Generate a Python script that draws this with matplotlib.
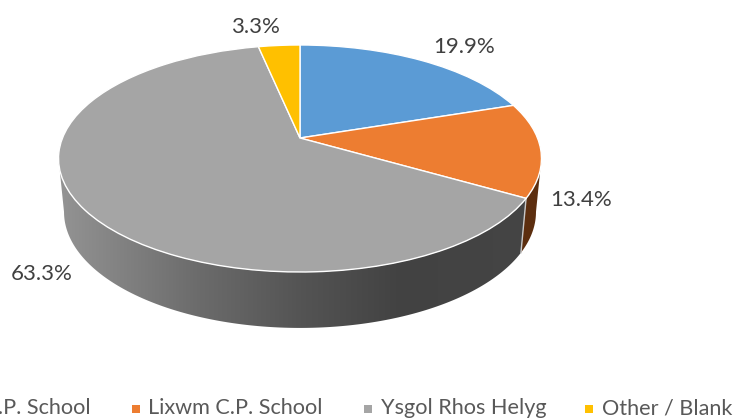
import numpy as np
import matplotlib
matplotlib.use("Agg")
import matplotlib.pyplot as plt
from matplotlib.patches import Polygon
from matplotlib.transforms import Transform

categories = ["Brynford C.P. School", "Lixwm C.P. School", "Ysgol Rhos Helyg", "Other / Blank"]
shares = [19.9, 13.4, 63.3, 3.3]

top_colors = ["#5B9BD5", "#ED7D31", "#A5A5A5", "#FFC000"]
side_colors = ["#3A6A96", "#5C2E0F", None, "#A67C00"]
label_pos = [(464, 47), (581, 200), (42, 274), (255, 27)]
legend_text_x = [91, 148, 381, 602]
legend_mark_x = [None, 135.5, 368, 589]

plt.rcParams["font.family"] = ["Lato", "DejaVu Sans"]
K = 0.1806
UPPER = (237.5, 109.8, 138)
LOWER = (232.1, 112.2, 191)


def project(u, v, a, b, y0):
    d = 1 + K * v
    return 300 + a * u / d, y0 - b * v / d


class Perspective(Transform):
    input_dims = 2
    output_dims = 2
    is_separable = False
    has_inverse = False

    def transform_non_affine(self, values):
        values = np.asarray(values, float)
        x, y = project(values[:, 0], values[:, 1], *UPPER)
        return np.column_stack([x, y])


fig = plt.figure(figsize=(7.33, 4.19), dpi=100)
ax = fig.add_axes([0, 0, 1, 1])

# extruded side of each slice, limited to the part that faces the viewer
edges = np.concatenate([[0], np.cumsum(shares)]) / np.sum(shares) * 2 * np.pi
t_right = np.arccos(-K)
t_left = 2 * np.pi - t_right
xs = np.arange(733) + 0.5
levels = np.interp(xs, [58, 200, 300, 400, 540], [0.58, 0.42, 0.33, 0.26, 0.27])
gradient = np.tile(levels[:, None], (1, 3))[None, :, :]

for i in range(len(shares)):
    t0, t1 = max(edges[i], t_right), min(edges[i + 1], t_left)
    if t1 <= t0:
        continue
    t = np.linspace(t0, t1, 200)
    ux, uy = project(np.sin(t), np.cos(t), *UPPER)
    lx, ly = project(np.sin(t), np.cos(t), *LOWER)
    verts = np.column_stack([np.r_[ux, lx[::-1]], np.r_[uy, ly[::-1]]])
    if side_colors[i] is None:
        outline = Polygon(verts, closed=True, facecolor="none", edgecolor="none")
        ax.add_patch(outline)
        im = ax.imshow(gradient, extent=(0, 733, 419, 0), aspect="auto", zorder=1, interpolation="bilinear")
        im.set_clip_path(outline)
    else:
        ax.add_patch(Polygon(verts, closed=True, facecolor=side_colors[i], edgecolor="none", zorder=1))

# divider on the side at the orange / gray boundary
tb = edges[2]
xa, ya = project(np.sin(tb), np.cos(tb), *UPPER)
xb, yb = project(np.sin(tb), np.cos(tb), *LOWER)
ax.plot([xa, xb], [ya, yb], color="#c8c8c8", lw=1.0, zorder=1.5)

# top face: library pie bent through the perspective transform
wedges, _ = ax.pie(shares, colors=top_colors, startangle=90, counterclock=False,
                   radius=1, wedgeprops=dict(edgecolor="white", linewidth=1.0))
persp = Perspective() + ax.transData
for w in wedges:
    w.set_transform(persp)
    w.set_clip_on(False)
    w.set_zorder(2)

ax.set_aspect("auto")
ax.set_xlim(0, 733)
ax.set_ylim(419, 0)
ax.axis("off")

for v, (x, y) in zip(shares, label_pos):
    ax.text(x, y, f"{v:.1f}%", ha="center", va="center", fontsize=16, color="#404040", zorder=3)

for i, name in enumerate(categories):
    if i == 0:
        ax.text(legend_text_x[i], 408, name, ha="right", va="center", fontsize=15.6, color="#595959")
    else:
        ax.text(legend_text_x[i], 408, name, ha="left", va="center", fontsize=15.6, color="#595959")
        ax.scatter([legend_mark_x[i]], [408.5], marker="s", s=30, color=top_colors[i], linewidths=0, zorder=3)

fig.savefig("out.png", dpi=100)
